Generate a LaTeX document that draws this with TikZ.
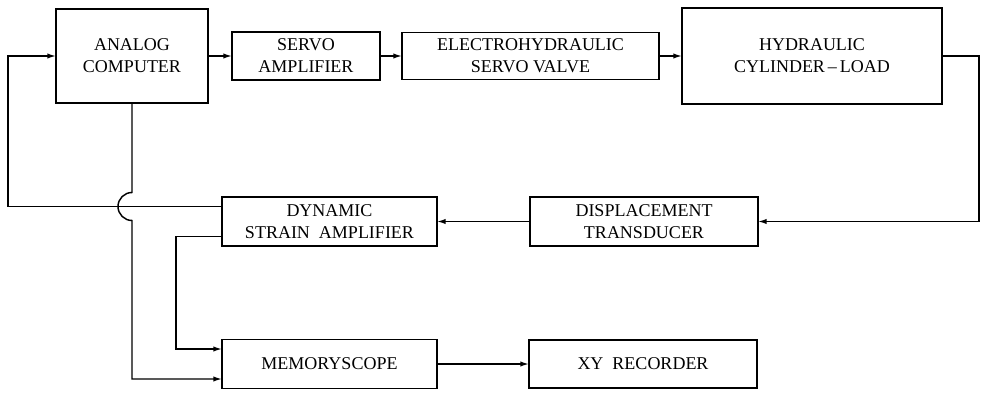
\documentclass[tikz,border=0pt]{standalone}
\usepackage{fontspec}
\setmainfont{Liberation Serif}
\usetikzlibrary{arrows.meta,calc}
\tikzset{
  box/.style={draw,line width=1pt,align=center,inner sep=0pt,outer sep=0pt,
    font=\fontsize{13.5}{16.5}\selectfont},
  arr/.style={-{Latex[length=6.5pt,width=4pt]},line width=1.1pt},
}
\begin{document}
\begin{tikzpicture}[x=0.75pt,y=0.75pt]
  \useasboundingbox[fill=white] (0,0) rectangle (982,394);
  % forward path
  \node[box,minimum width=114pt,minimum height=70.5pt] (ana) at (132,338) {ANALOG\\COMPUTER};
  \node[box,minimum width=111pt,minimum height=36pt] (servo) at (306,338) {SERVO\\AMPLIFIER};
  \node[box,minimum width=192.75pt,minimum height=35.25pt] (valve) at (530.5,338) {ELECTROHYDRAULIC\\SERVO VALVE};
  \node[box,minimum width=195pt,minimum height=72pt] (hyd) at (812,338) {HYDRAULIC\\CYLINDER\,--\,LOAD};
  % measuring side
  \node[box,minimum width=161.25pt,minimum height=36.75pt] (dsa) at (329.5,172.5) {DYNAMIC\\STRAIN\enspace AMPLIFIER};
  \node[box,minimum width=171pt,minimum height=36.75pt] (dt) at (644,172.5) {DISPLACEMENT\\TRANSDUCER};
  \node[box,minimum width=161.25pt,minimum height=36.75pt] (mem) at (329.5,30) {MEMORYSCOPE};
  \node[box,minimum width=171pt,minimum height=36pt] (xy) at (643,30) {XY\enspace RECORDER};
  \coordinate (rt) at (979,0);
  \coordinate (jn) at ($(dsa.west)+(0,15)$);
  % connectors
  \draw[arr] (ana.east) -- (servo.west);
  \draw[arr] (servo.east) -- (valve.west);
  \draw[arr] (valve.east) -- (hyd.west);
  \draw[arr] (hyd.east) -| (rt |- dt.east) -- (dt.east);
  \draw[arr] (dt.west) -- (dsa.east);
  \draw[arr] (jn) -- ++(-214,0) |- (ana.west);
  \draw[arr] ($(dsa.west)+(0,-15)$) -- ++(-46,0) |- ($(mem.west)+(0,15)$);
  \draw[arr] (ana.south) -- ($(ana.south |- jn)+(0,14)$)
    arc[start angle=90,end angle=270,radius=10.5pt] |- ($(mem.west)+(0,-15)$);
  \draw[arr] (mem.east) -- (xy.west);
\end{tikzpicture}
\end{document}
